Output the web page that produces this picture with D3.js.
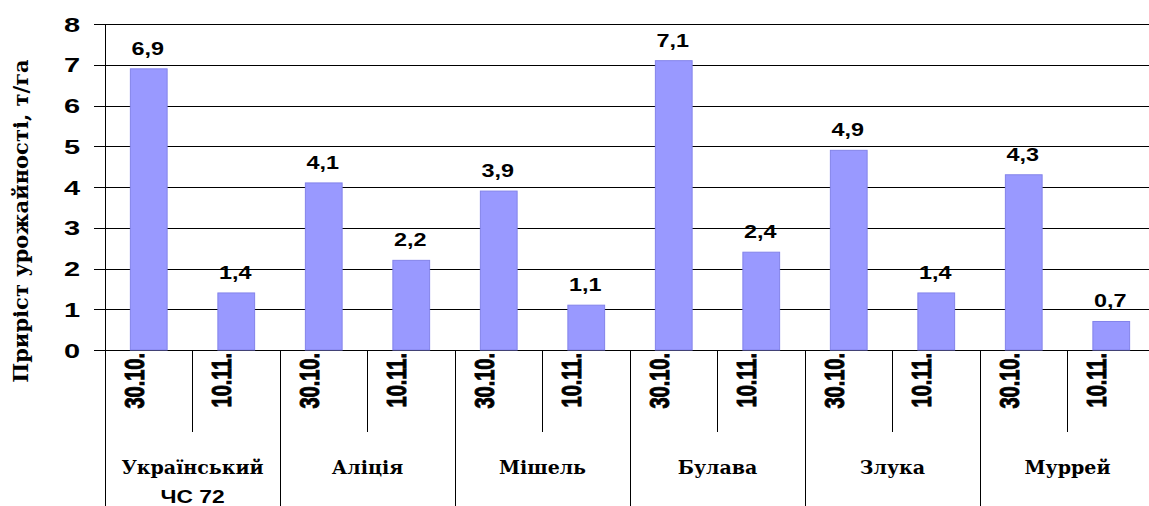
<!DOCTYPE html>
<html>
<head>
<meta charset="utf-8">
<script src="https://cdn.jsdelivr.net/npm/d3@7"></script>
<style>
  body { margin: 0; background: #fff; }
  svg { display: block; }
  .sans { font-family: "Liberation Sans", Arial, sans-serif; font-weight: 700; fill: #000; }
  .serif { font-family: "DejaVu Serif", serif; font-weight: 700; fill: #000; }
</style>
</head>
<body>
<script>
// data
var varieties = ['Український\nЧС 72', 'Аліція', 'Мішель', 'Булава', 'Злука', 'Муррей'];
var dates = ['30.10.', '10.11.'];
var gain3010 = [6.9, 4.1, 3.9, 7.1, 4.9, 4.3];
var gain1011 = [1.4, 2.2, 1.1, 2.4, 1.4, 0.7];
var yTicks = [0, 1, 2, 3, 4, 5, 6, 7, 8];
var yTitle = 'Приріст урожайності, т/га';

const w = 1149;
const h = 506;
const plotLeft = 105, plotRight = 1155, plotTop = 24, base = 350;

var rows = [];
varieties.forEach(function(v, i) {
  rows.push({ key: i + '-0', variety: v, date: dates[0], value: gain3010[i] });
  rows.push({ key: i + '-1', variety: v, date: dates[1], value: gain1011[i] });
});

var x = d3.scaleBand()
  .domain(rows.map(d => d.key))
  .range([plotLeft, plotRight])
  .paddingInner(0.58)
  .paddingOuter(0.29);

var groups = d3.scaleBand()
  .domain(varieties)
  .range([plotLeft, plotRight]);

var y = d3.scaleLinear()
  .domain([0, 8])
  .range([base, plotTop]);

var chart = d3.select('body')
  .append('svg')
  .attr('width', w)
  .attr('height', h);

// gridlines + y tick labels
var yAxis = d3.axisLeft(y)
  .tickValues(yTicks)
  .tickSize(-(w - 94))
  .tickFormat(d3.format('d'));

var gy = chart.append('g')
  .attr('transform', 'translate(94,0)')
  .call(yAxis);
gy.select('.domain').remove();
gy.selectAll('line').attr('stroke', '#000').attr('shape-rendering', 'crispEdges');
gy.selectAll('text')
  .attr('class', 'sans')
  .attr('x', 0)
  .attr('dy', '0.36em')
  .attr('text-anchor', 'end')
  .style('font-size', '20px')
  .attr('transform', 'translate(-14,0) scale(1.45,1)');

// bars
chart.selectAll('rect.bar')
  .data(rows)
  .enter()
  .append('rect')
  .attr('class', 'bar')
  .attr('x', d => x(d.key))
  .attr('y', d => y(d.value))
  .attr('width', x.bandwidth())
  .attr('height', d => base - y(d.value))
  .attr('fill', '#9999ff')
  .attr('stroke', '#8383ea')
  .attr('stroke-width', 1);

// value labels
chart.selectAll('text.val')
  .data(rows)
  .enter()
  .append('text')
  .attr('class', 'val sans')
  .attr('text-anchor', 'middle')
  .style('font-size', '18px')
  .attr('transform', d => 'translate(' + (x(d.key) + x.bandwidth() / 2 - 1) + ',' + (y(d.value) - 14) + ') scale(1.3,1)')
  .text(d => d.value.toFixed(1).replace('.', ','));

// y axis line
chart.append('line')
  .attr('x1', plotLeft).attr('x2', plotLeft)
  .attr('y1', plotTop).attr('y2', base)
  .attr('stroke', '#000')
  .attr('shape-rendering', 'crispEdges');

// x axis: date labels
var xAxis = d3.axisBottom(x)
  .tickSize(0)
  .tickFormat(k => rows.find(r => r.key == k).date);

var gx = chart.append('g')
  .attr('transform', 'translate(0,' + base + ')')
  .call(xAxis);
gx.select('.domain').remove();
gx.selectAll('.tick text')
  .attr('class', 'sans')
  .attr('x', 0)
  .attr('y', 0)
  .attr('dy', '0.36em')
  .attr('text-anchor', 'end')
  .style('font-size', '20px')
  .style('stroke', '#000')
  .style('stroke-width', '0.7px')
  .attr('transform', 'translate(-15,3) scale(1.4,1) rotate(-90)');

// separators under the axis
chart.selectAll('line.inner')
  .data(varieties)
  .enter()
  .append('line')
  .attr('class', 'inner')
  .attr('x1', d => groups(d) + groups.bandwidth() / 2)
  .attr('x2', d => groups(d) + groups.bandwidth() / 2)
  .attr('y1', base).attr('y2', 432)
  .attr('stroke', '#000')
  .attr('shape-rendering', 'crispEdges');

chart.selectAll('line.outer')
  .data(varieties)
  .enter()
  .append('line')
  .attr('class', 'outer')
  .attr('x1', d => groups(d))
  .attr('x2', d => groups(d))
  .attr('y1', base).attr('y2', h)
  .attr('stroke', '#000')
  .attr('shape-rendering', 'crispEdges');

// variety names
var names = chart.selectAll('g.name')
  .data(varieties)
  .enter()
  .append('g')
  .attr('class', 'name')
  .attr('transform', d => 'translate(' + (groups(d) + groups.bandwidth() / 2) + ',0)');

names.each(function(d) {
  var parts = d.split('\n');
  var g = d3.select(this);
  g.append('text')
    .attr('class', 'serif')
    .attr('text-anchor', 'middle')
    .attr('y', 474)
    .style('font-size', '19px')
    .text(parts[0]);
  if (parts[1]) {
    g.append('text')
      .attr('class', 'sans')
      .attr('text-anchor', 'middle')
      .attr('transform', 'translate(0,503) scale(1.2,1)')
      .style('font-size', '19px')
      .text(parts[1]);
  }
});

// y title
chart.append('text')
  .attr('class', 'serif')
  .attr('text-anchor', 'middle')
  .attr('transform', 'translate(28,221) rotate(-90)')
  .style('font-size', '21px')
  .text(yTitle);
</script>
</body>
</html>
